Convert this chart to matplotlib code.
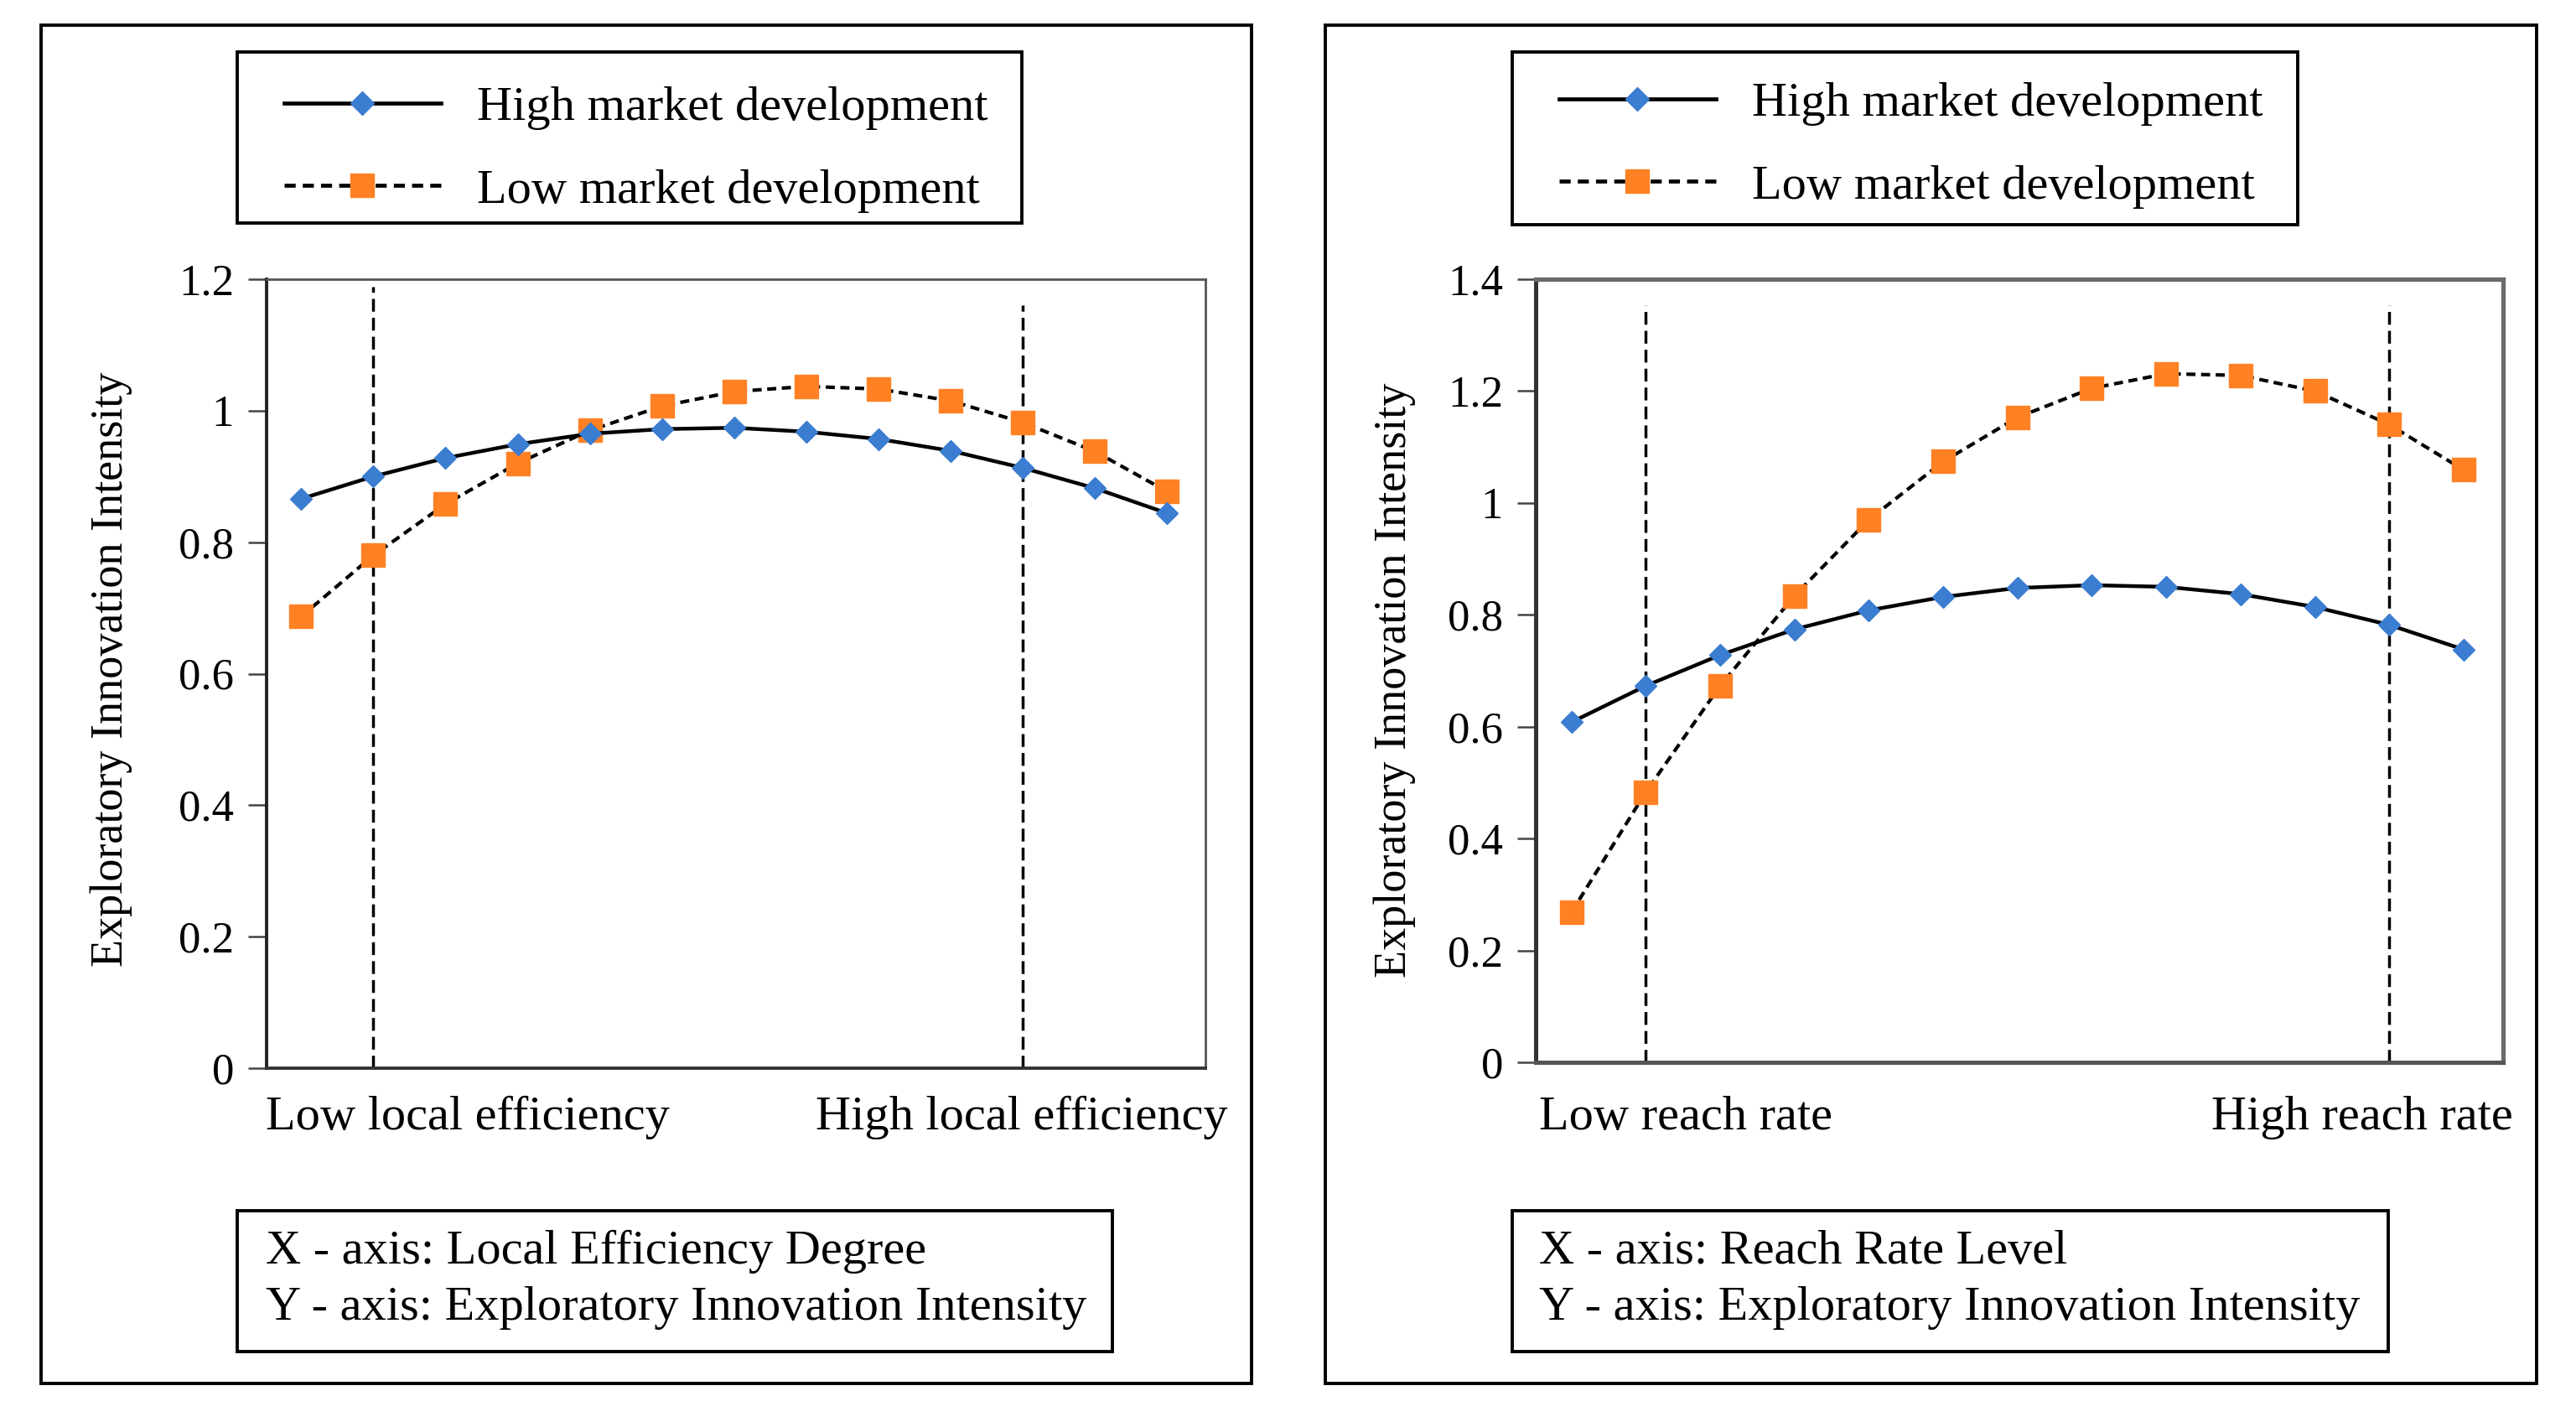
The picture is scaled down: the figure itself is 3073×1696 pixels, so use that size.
import matplotlib
matplotlib.use("Agg")
import matplotlib.pyplot as plt
from matplotlib.patches import Rectangle
from matplotlib.lines import Line2D

plt.rcParams['font.family'] = ['Liberation Serif', 'DejaVu Serif']

# ---------------- data ----------------
x_points = list(range(1, 14))

left_high = [0.866, 0.900, 0.928, 0.949, 0.965, 0.972, 0.974, 0.968, 0.957, 0.939, 0.913, 0.882, 0.844]
left_low = [0.687, 0.780, 0.858, 0.920, 0.970, 1.007, 1.029, 1.037, 1.033, 1.015, 0.982, 0.938, 0.877]

right_high = [0.608, 0.673, 0.728, 0.774, 0.808, 0.832, 0.848, 0.853, 0.850, 0.837, 0.814, 0.782, 0.738]
right_low = [0.268, 0.483, 0.673, 0.834, 0.970, 1.074, 1.153, 1.205, 1.231, 1.228, 1.200, 1.140, 1.059]

left_yticks = [0, 0.2, 0.4, 0.6, 0.8, 1, 1.2]
left_yticklabels = ['0', '0.2', '0.4', '0.6', '0.8', '1', '1.2']
right_yticks = [0, 0.2, 0.4, 0.6, 0.8, 1, 1.2, 1.4]
right_yticklabels = ['0', '0.2', '0.4', '0.6', '0.8', '1', '1.2', '1.4']

left_vlines = [2, 11]
left_vline_tops = [1.189, 1.160]
right_vlines = [2, 12]
right_vline_tops = [1.354, 1.354]

series_labels = ['High market development', 'Low market development']
y_label = 'Exploratory Innovation Intensity'
left_xlabels = ['Low local efficiency', 'High local efficiency']
right_xlabels = ['Low reach rate', 'High reach rate']
left_note = ['X - axis: Local Efficiency Degree', 'Y - axis: Exploratory Innovation Intensity']
right_note = ['X - axis: Reach Rate Level', 'Y - axis: Exploratory Innovation Intensity']

# ---------------- styling ----------------
W, H = 3073, 1696
BLUE = '#3b7dd0'
ORANGE = '#ff8124'
FS = 42
TICK_FS = 38
YL_FS = 39

fig = plt.figure(figsize=(W / 100, H / 100), dpi=100)
fig.patch.set_facecolor('white')


def fx(px):
    return px / W


def fy(py):
    return 1 - py / H


def frame(x0, y0, x1, y1, lw=2.8, color='black'):
    r = Rectangle((fx(x0), fy(y1)), fx(x1) - fx(x0), fy(y0) - fy(y1),
                  transform=fig.transFigure, fill=False, edgecolor=color,
                  linewidth=lw, zorder=0)
    fig.patches.append(r)


def panel(ax_px, high, low, yticks, yticklabels, ymax, vlines, vline_tops,
          outer, legbox, leg_anchor, ylab_xy, xlabs, xlab_xy, notebox, note, note_xy,
          spine_style):
    x0, y0, x1, y1 = ax_px
    ax = fig.add_axes([fx(x0), fy(y1), fx(x1) - fx(x0), fy(y0) - fy(y1)])
    ax.plot(x_points, high, color='black', lw=3.2, marker='D', ms=13.5,
            mfc=BLUE, mec=BLUE, zorder=4, label=series_labels[0])
    ax.plot(x_points, low, color='black', lw=3.0, ls=(0, (2.6, 1.6)), marker='s', ms=19.5,
            mfc=ORANGE, mec=ORANGE, zorder=3, label=series_labels[1])
    for v, top in zip(vlines, vline_tops):
        ax.vlines(v, 0, top, colors='black', linestyles=(0, (4.4, 2.1)), lw=2.5, zorder=2)
    ax.set_xlim(0.52, 13.53)
    ax.set_ylim(0, ymax)
    ax.set_yticks(yticks)
    ax.set_yticklabels(yticklabels, fontsize=TICK_FS)
    ax.set_xticks([])
    ax.tick_params(axis='y', direction='out', length=16, width=1.8, color='#444444', pad=12)
    for side, (c, lw) in spine_style.items():
        ax.spines[side].set_color(c)
        ax.spines[side].set_linewidth(lw)

    frame(*outer, lw=2.8)
    frame(*legbox, lw=2.8)
    handles = [
        Line2D([], [], color='black', lw=3.4, marker='D', ms=14, mfc=BLUE, mec=BLUE),
        Line2D([], [], color='black', lw=3.4, ls=(0, (2.8, 1.8)), marker='s', ms=20,
               mfc=ORANGE, mec=ORANGE),
    ]
    fig.legend(handles, series_labels, loc='center left',
               bbox_to_anchor=(fx(leg_anchor[0]), fy(leg_anchor[1])),
               bbox_transform=fig.transFigure, frameon=False, fontsize=FS,
               handlelength=3.2, handletextpad=0.75, labelspacing=0.78,
               borderpad=0, borderaxespad=0, markerscale=1.0)

    fig.text(fx(ylab_xy[0]), fy(ylab_xy[1]), y_label, rotation=90,
             ha='center', va='center', fontsize=YL_FS)
    fig.text(fx(xlab_xy[0]), fy(xlab_xy[2]), xlabs[0], ha='left', va='center', fontsize=FS)
    fig.text(fx(xlab_xy[1]), fy(xlab_xy[2]), xlabs[1], ha='right', va='center', fontsize=FS)

    frame(*notebox, lw=2.8)
    fig.text(fx(note_xy[0]), fy(note_xy[1]), note[0], ha='left', va='center', fontsize=FS)
    fig.text(fx(note_xy[0]), fy(note_xy[2]), note[1], ha='left', va='center', fontsize=FS)
    return ax


left_spines = {'left': ('#222222', 2.8), 'bottom': ('#333333', 2.8),
               'top': ('#555555', 2.0), 'right': ('#555555', 2.0)}
right_spines = {'left': ('#333333', 3.6), 'bottom': ('#555555', 3.6),
                'top': ('#6b6b6b', 3.8), 'right': ('#6b6b6b', 3.8)}

panel((318, 333, 1438, 1274), left_high, left_low, left_yticks, left_yticklabels, 1.2,
      left_vlines, left_vline_tops,
      outer=(49, 30, 1493, 1650), legbox=(283, 62, 1219, 266), leg_anchor=(339, 178),
      ylab_xy=(133, 798), xlabs=left_xlabels, xlab_xy=(317, 1465, 1333),
      notebox=(283, 1444, 1327, 1612), note=left_note, note_xy=(317, 1493, 1560),
      spine_style=left_spines)

panel((1832, 333, 2986, 1267), right_high, right_low, right_yticks, right_yticklabels, 1.4,
      right_vlines, right_vline_tops,
      outer=(1581, 30, 3026, 1650), legbox=(1804, 62, 2741, 268), leg_anchor=(1860, 173),
      ylab_xy=(1664, 811), xlabs=right_xlabels, xlab_xy=(1836, 2998, 1333),
      notebox=(1804, 1444, 2849, 1612), note=right_note, note_xy=(1836, 1493, 1560),
      spine_style=right_spines)

fig.savefig('out.png', dpi=100, facecolor='white')
